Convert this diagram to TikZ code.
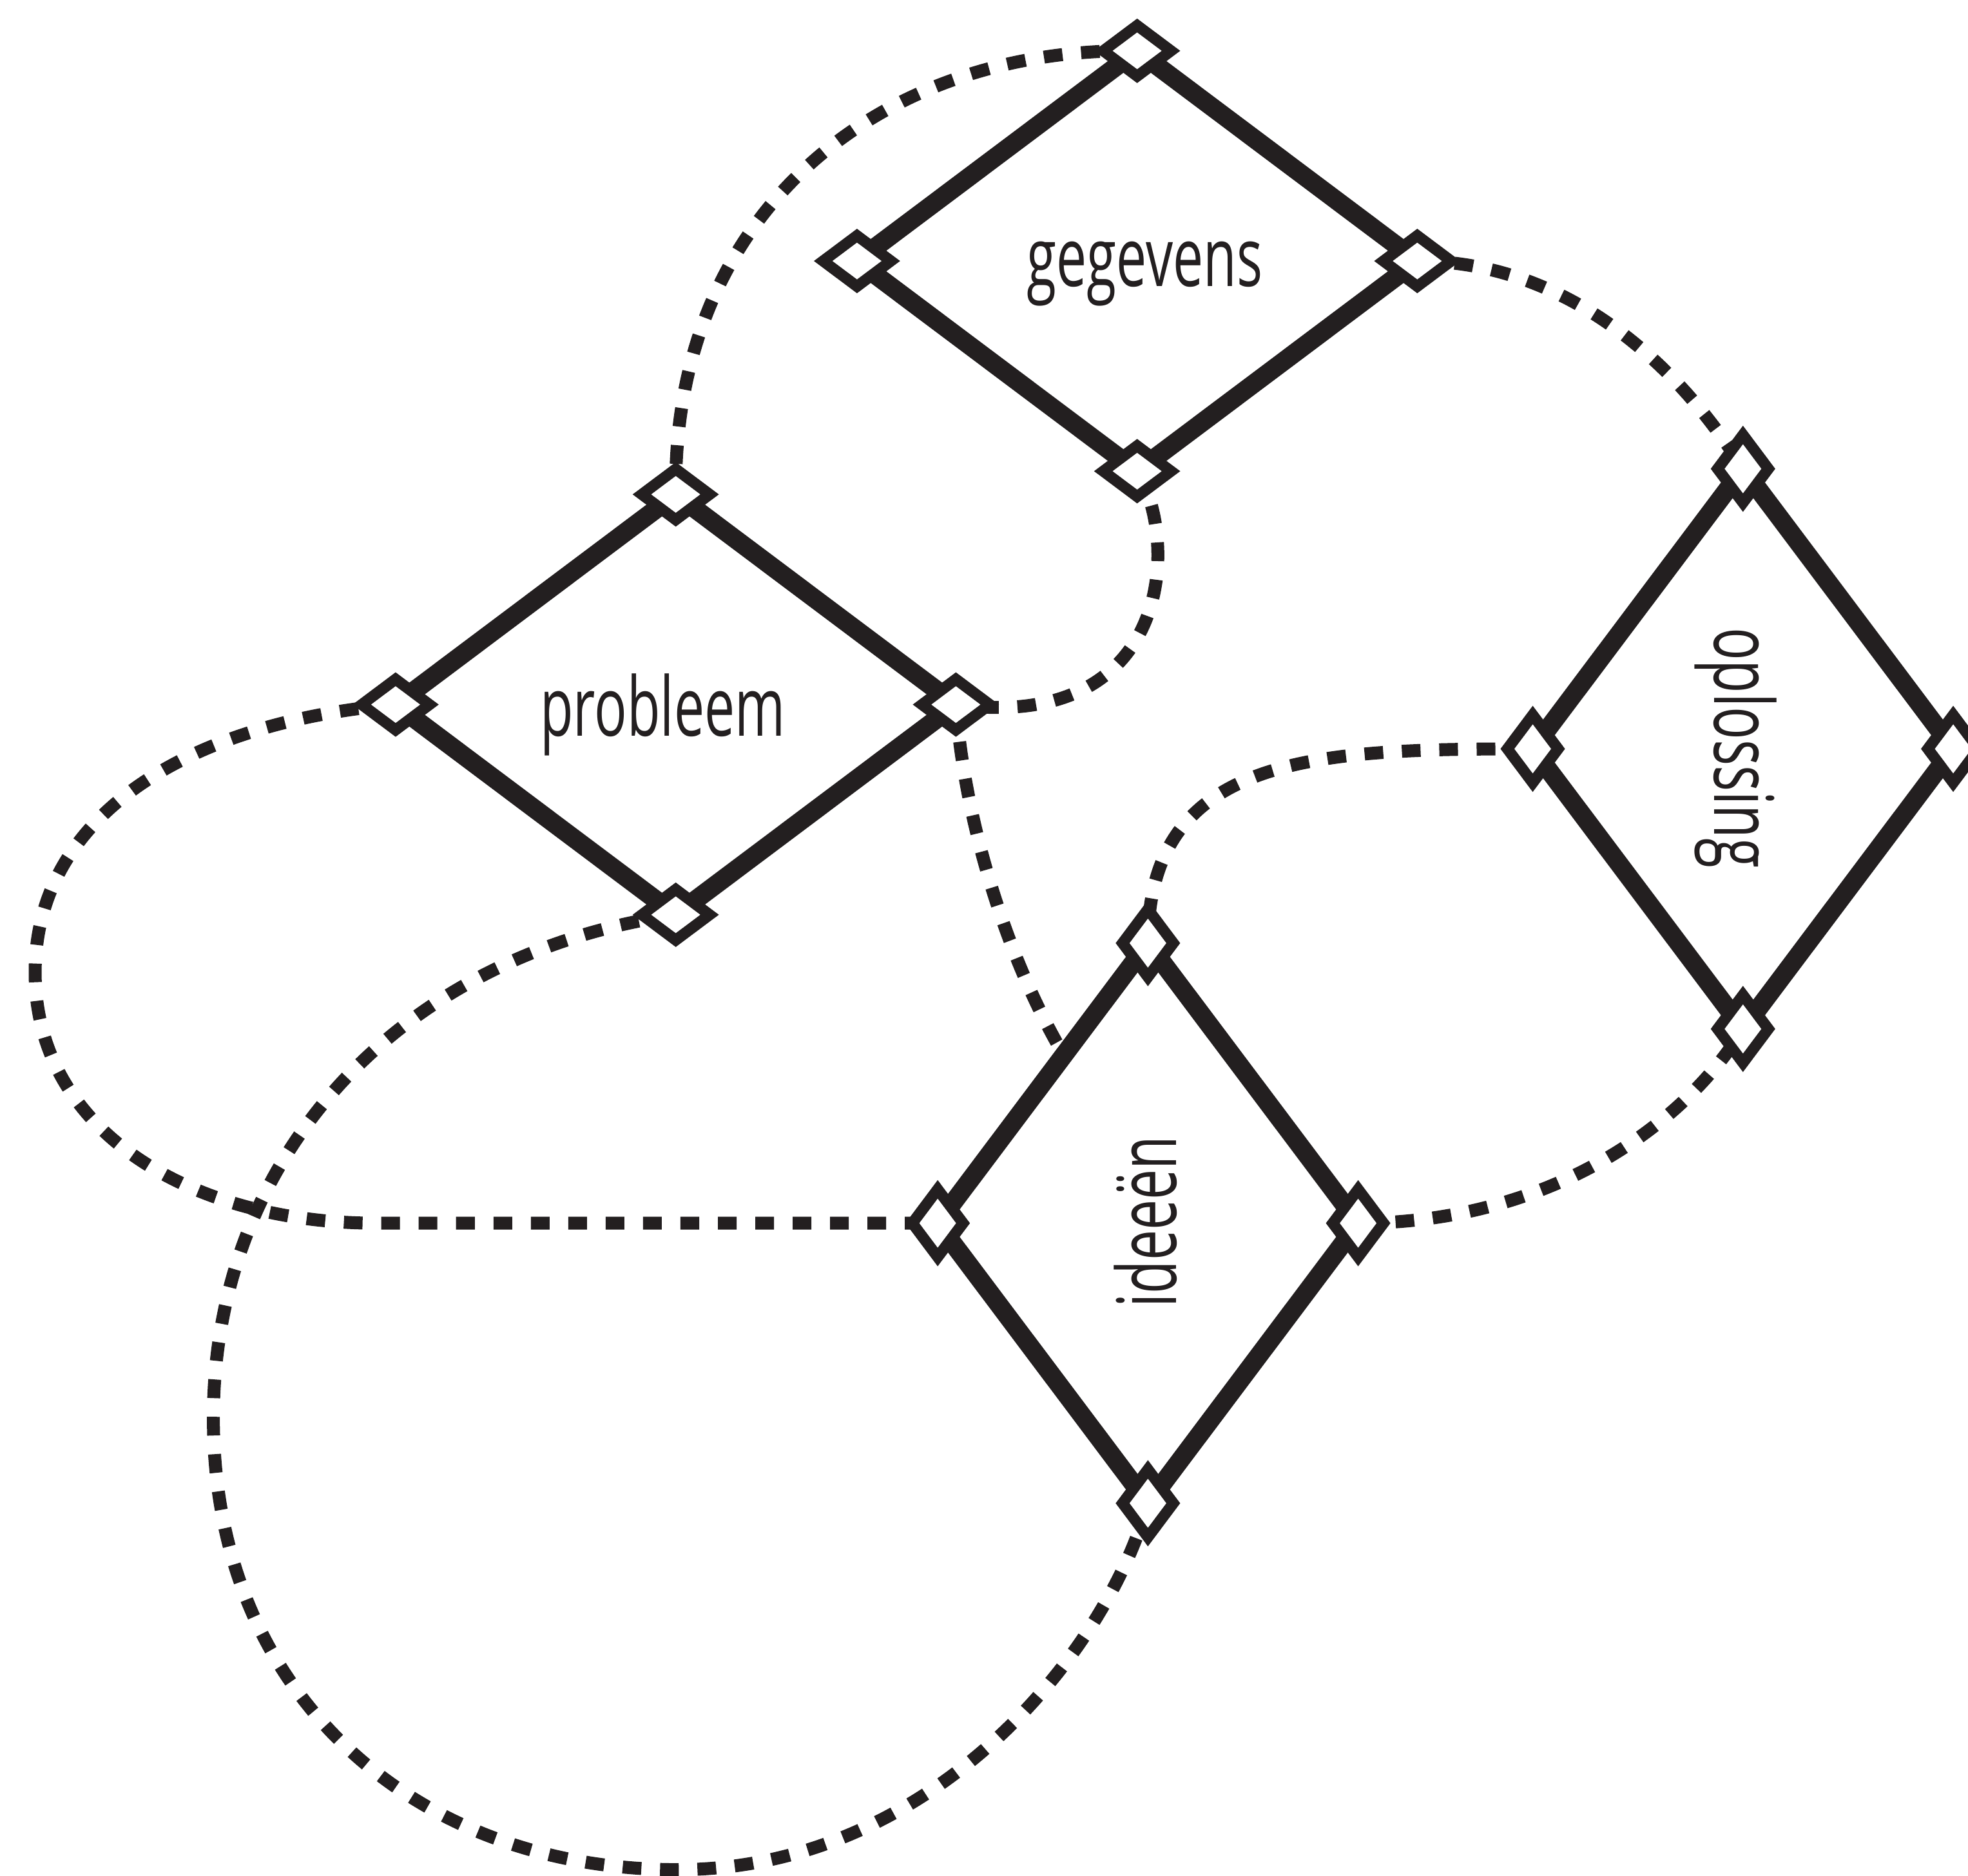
\documentclass[tikz,border=0pt]{standalone}
\usepackage{fontspec}
\usetikzlibrary{shapes.geometric,calc}
\newfontfamily\lblfont[FakeStretch=0.66]{Open Sans}
\definecolor{ink}{HTML}{231F20}
\pgfdeclarelayer{bg}
\pgfsetlayers{bg,main}

\begin{document}
\begin{tikzpicture}[x=0.5pt,y=-0.5pt,
  dotline/.style={draw=ink,line width=5.15pt,dash pattern=on 7.45pt off 7.45pt},
  hbox/.style={shape=diamond,draw=ink,fill=white,line width=7.45pt,inner sep=0pt,outer sep=0pt,
               minimum width=223.2pt,minimum height=167.5pt},
  vbox/.style={hbox,minimum width=167.5pt,minimum height=223.2pt},
  hport/.style={shape=diamond,draw=ink,fill=white,line width=4.4pt,miter limit=10,inner sep=0pt,
                outer sep=0pt,minimum width=27pt,minimum height=20.2pt},
  vport/.style={hport,minimum width=20.2pt,minimum height=27pt},
  lbl/.style={inner sep=0pt,text=ink,font=\lblfont\fontsize{32.7pt}{32.7pt}\selectfont}
]
\useasboundingbox (0,0) rectangle (1568,1495);

% the four stages
\node[hbox] (geg)  at (906,208)      {};
\node[hbox] (prob) at (538.4,561.5)  {};
\node[vbox] (opl)  at (1388.7,596.8) {};
\node[vbox] (idee) at (914.6,974.8)  {};

\node[lbl,anchor=base] (tgeg) at (912,228.4) {gegevens};
\node[lbl,anchor=base] (tprob) at (528,586.4) {probleem};
\node[lbl,anchor=base,rotate=-90] (topl) at (1365.7,596) {oplossing};
\node[lbl,anchor=base,rotate=90] (tidee) at (937.5,973.8) {ideeën};

% connection points at the corners
\node[hport] (gN) at (geg.north) {};
\node[hport] (gW) at (geg.west)  {};
\node[hport] (gE) at (geg.east)  {};
\node[hport] (gS) at (geg.south) {};
\node[hport] (pN) at (prob.north) {};
\node[hport] (pW) at (prob.west)  {};
\node[hport] (pE) at (prob.east)  {};
\node[hport] (pS) at (prob.south) {};
\node[vport] (oN) at (opl.north) {};
\node[vport] (oW) at (opl.west)  {};
\node[vport] (oE) at (opl.east)  {};
\node[vport] (oS) at (opl.south) {};
\node[vport] (iN) at (idee.north) {};
\node[vport] (iW) at (idee.west)  {};
\node[vport] (iE) at (idee.east)  {};
\node[vport] (iS) at (idee.south) {};

% dotted links, kept beneath the shapes
\begin{pgfonlayer}{bg}
\fill[white] (0,0) rectangle (1568,1495);
\coordinate (c4a) at (28,775);
\coordinate (c4b) at (300,974.8);
\coordinate (c5a) at (170,1130);
\coordinate (c5b) at (540,1490);
\coordinate (c6)  at ($(iW)!0.6!(iN)$);

\draw[dotline] (gN.center) .. controls +(-206,-3) and +(-3,-224) .. (pN.center);
\draw[dotline] (gE.center) .. controls +(111,0) and +(-58,-93) .. (oN.center);
\draw[dotline] (gS.center) .. controls +(34,55) and +(173,23) .. (pE.center);
\draw[dotline] (pW.center) .. controls +(-165,14) and +(0,-125) .. (c4a)
                .. controls +(0,125) and +(-150,0) .. (c4b) -- (iW.center);
\draw[dotline] (pS.center) .. controls +(-218,31) and +(0,-210) .. (c5a)
                .. controls +(0,220) and +(-210,0) .. (c5b)
                .. controls +(200,0) and +(-34,122) .. (iS.center);
\draw[dotline] (pE.center) .. controls +(6.4,88.5) and +(-47.6,-80.8) .. (c6);
\draw[dotline] (oW.center) .. controls +(-172,0) and +(0,-151) .. (iN.center);
\draw[dotline] (iE.center) .. controls +(148,0) and +(-49,80) .. (oS.center);
\end{pgfonlayer}
\end{tikzpicture}
\end{document}
